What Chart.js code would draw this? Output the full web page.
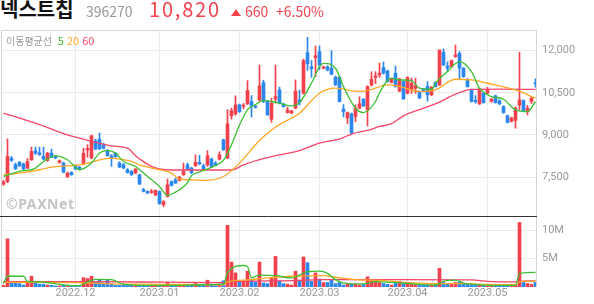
<!DOCTYPE html>
<html lang="ko">
<head>
<meta charset="utf-8">
<script src="https://cdn.jsdelivr.net/npm/chart.js@4.4.0/dist/chart.umd.min.js"></script>
<style>
  body { margin: 0; width: 594px; height: 304px; overflow: hidden; background: #fff; position: relative; font-family: "Noto Sans CJK KR", sans-serif; }
  canvas { position: absolute; left: 0; }
  #priceChart { top: 30px; }
  #volumeChart { top: 217px; }
  .t { position: absolute; white-space: nowrap; line-height: 1; }
  .name { left: 0; top: -1px; font-size: 20px; font-weight: bold; color: #111; }
  .code { left: 86px; top: 3.5px; font-size: 14px; color: #999; }
  .price { left: 149px; top: -1.5px; font-size: 20px; color: #f2434f; letter-spacing: 1.8px; }
  .tri { position: absolute; left: 231px; top: 9px; width: 0; height: 0; border-left: 5px solid transparent; border-right: 5px solid transparent; border-bottom: 7px solid #f2434f; }
  .chg { left: 245px; top: 3.5px; font-size: 14px; color: #f2434f; }
  .pct { left: 276px; top: 3.5px; font-size: 14px; color: #f2434f; }
  .legend { left: 6px; top: 35px; font-size: 10px; color: #999; }
  .legend b { font-weight: normal; font-size: 11px; margin-left: 3px; }
  .mark { left: 6px; top: 197px; font-family: "Noto Sans", sans-serif; font-size: 14px; font-weight: bold; color: #c4c4c4; letter-spacing: 0.6px; }
</style>
</head>
<body>
<canvas id="priceChart" width="594" height="187"></canvas>
<canvas id="volumeChart" width="594" height="87"></canvas>

<div class="t name">넥스트칩</div>
<div class="t code">396270</div>
<div class="t price">10,820</div>
<div class="tri"></div>
<div class="t chg">660</div>
<div class="t pct">+6.50%</div>
<div class="t legend">이동평균선 <b style="color:#3cbf32">5</b><b style="color:#ffa726">20</b><b style="color:#f7456a">60</b></div>
<div class="t mark">©PAXNet</div>

<script>
// --- DATA (2022.11.07 ~ 2023.05.19, 일봉) ---
const monthIdx = [18, 39, 59, 79, 101, 121];
const monthLabels = ['2022.12', '2023.01', '2023.02', '2023.03', '2023.04', '2023.05'];
const priceTicks = [7500, 9000, 10500, 12000];
const volumeTicks = [5, 10];

const open = [7250, 7340, 8170, 7940, 8020, 7970, 7820, 8114, 8435, 8360,
  8233, 8090, 8350, 8230, 8020, 7996, 7520, 7660, 7900, 7850,
  7970, 8460, 8175, 8790, 8850, 8650, 8445, 8250, 8350, 8000,
  7940, 7760, 7700, 7640, 7580, 7048, 6990, 6950, 6860, 6990,
  6515, 6810, 7343, 7400, 7380, 7580, 7935, 7820, 7900, 8020,
  7900, 7935, 8140, 8000, 8140, 8825, 8175, 9680, 9750, 10070,
  10020, 10105, 10190, 10020, 10247, 10860, 10190, 9560, 10280, 10603,
  10100, 9795, 9775, 9950, 10247, 10485, 11930, 11430, 11750, 11965,
  11380, 11430, 11375, 11054, 11054, 9920, 9600, 9750, 9655, 9950,
  10270, 9892, 10780, 11040, 11136, 11395, 11280, 10875, 11197, 10565,
  10900, 10485, 10603, 10660, 10545, 10620, 10720, 10425, 10875, 10780,
  11943, 11456, 11430, 11790, 11907, 11375, 10983, 10603, 10230, 10105,
  10485, 10485, 10190, 10390, 10220, 10010, 9680, 9480, 9515, 10060,
  10220, 9830, 10190, 10860];
const high = [7380, 8860, 8230, 8000, 8060, 8000, 8160, 8565, 8565, 8565,
  8565, 8380, 8500, 8260, 8110, 8030, 7680, 7690, 7930, 7880,
  8530, 8650, 8995, 8850, 9070, 8700, 8480, 8300, 8380, 8050,
  7980, 7800, 7730, 7800, 7600, 7100, 7010, 7060, 7040, 7010,
  6660, 7430, 7360, 7460, 7520, 8000, 8000, 7850, 8290, 8270,
  7960, 8440, 8180, 8050, 8400, 8850, 9900, 9950, 10390, 10100,
  10120, 10935, 10400, 10050, 11490, 10950, 10220, 10300, 11490, 10700,
  10130, 9990, 9880, 10958, 10600, 11700, 12476, 11650, 12167, 12167,
  11450, 11460, 12000, 11100, 11080, 10080, 9820, 9780, 10070, 10360,
  10300, 10750, 11250, 11250, 11560, 11600, 11310, 11020, 11450, 11020,
  10930, 11070, 11020, 11020, 10570, 10650, 10900, 10720, 10890, 12025,
  12060, 11600, 11670, 12200, 11970, 11400, 11010, 10630, 10400, 10660,
  10510, 10700, 10300, 10420, 10250, 10040, 9710, 9630, 10000, 11940,
  10250, 10050, 10360, 11000];
const low = [7200, 7300, 8050, 7770, 7880, 7760, 7800, 8090, 8300, 8270,
  8120, 8060, 8190, 8150, 7990, 7650, 7480, 7560, 7760, 7760,
  7950, 8200, 8150, 8480, 8480, 8500, 8240, 7880, 8200, 7830,
  7800, 7640, 7560, 7620, 7230, 6970, 6910, 6920, 6840, 6530,
  6440, 6790, 7180, 7270, 7360, 7560, 7740, 7620, 7880, 7940,
  7740, 7880, 7850, 7900, 8110, 8450, 8150, 9560, 9700, 9800,
  9930, 10080, 9640, 9950, 10200, 10150, 9690, 9450, 10130, 10100,
  9990, 9780, 9760, 9930, 10060, 10450, 11300, 11050, 11075, 11320,
  11350, 11280, 11140, 10760, 10170, 9640, 9400, 9040, 9470, 9930,
  10010, 9320, 10740, 10830, 11050, 11170, 10880, 10850, 10700, 10540,
  10260, 10460, 10480, 10480, 10290, 10530, 10200, 10400, 10700, 10760,
  11470, 11250, 11400, 11760, 11000, 11050, 10700, 10170, 10130, 10080,
  10130, 10460, 10170, 10130, 10080, 9770, 9420, 9460, 9240, 9900,
  9840, 9710, 10120, 10700];
const close = [7330, 8240, 8100, 7790, 7900, 7790, 8055, 8410, 8350, 8300,
  8140, 8350, 8210, 8180, 8080, 7677, 7641, 7580, 7785, 7785,
  8350, 8520, 8967, 8495, 8500, 8530, 8260, 8170, 8230, 7855,
  7820, 7660, 7580, 7785, 7250, 6990, 6930, 7000, 7025, 6550,
  6630, 7226, 7200, 7285, 7500, 7700, 7785, 7660, 8020, 7970,
  7785, 8260, 7875, 7920, 8290, 8470, 9394, 9867, 10070, 9830,
  10060, 10580, 10035, 9980, 10745, 10190, 9715, 10130, 10365, 10130,
  10010, 9890, 9855, 10565, 10165, 11645, 11530, 11350, 11820, 11490,
  11420, 11314, 11160, 10780, 10190, 9830, 9795, 9063, 9950, 10105,
  10035, 10720, 10983, 11100, 11197, 11197, 10900, 10994, 10720, 10994,
  10283, 11040, 10840, 10755, 10310, 10560, 10425, 10700, 10720, 12025,
  11490, 11375, 11645, 11850, 11375, 11075, 10720, 10190, 10180, 10640,
  10150, 10603, 10270, 10150, 10105, 9795, 9445, 9600, 9950, 10247,
  9867, 9950, 10310, 10820];
// 거래량 (백만 주)
const volume = [0.3, 8.5, 0.9, 0.7, 0.6, 0.35, 0.9, 1.9, 0.8, 0.5,
  0.5, 0.35, 0.3, 0.2, 0.2, 0.35, 0.2, 0.2, 0.1, 0.1,
  1.65, 1.5, 1.9, 0.85, 1.3, 0.7, 1.35, 0.5, 0.3, 0.35,
  0.3, 0.35, 0.3, 0.2, 0.3, 0.2, 0.15, 0.15, 0.15, 0.2,
  0.15, 0.8, 0.3, 0.3, 0.3, 0.35, 0.3, 0.3, 0.6, 0.3,
  0.3, 1.2, 0.3, 0.25, 0.3, 1.1, 10.9, 4.4, 2.5, 1.0,
  1.1, 2.8, 1.4, 0.9, 4.4, 0.7, 0.6, 1.7, 5.4, 1.05,
  0.6, 0.5, 0.35, 2.8, 1.1, 5.3, 4.3, 1.0, 2.5, 1.4,
  0.8, 0.8, 1.2, 0.6, 0.8, 0.35, 0.5, 0.5, 0.5, 0.35,
  0.45, 1.8, 1.1, 0.95, 0.8, 0.6, 0.45, 0.35, 0.8, 0.95,
  0.6, 0.8, 0.45, 0.4, 0.35, 0.3, 0.35, 0.3, 0.35, 3.3,
  0.8, 0.6, 0.6, 0.8, 0.9, 0.6, 0.5, 0.45, 0.3, 0.4,
  0.3, 0.3, 0.2, 0.2, 0.2, 0.25, 0.3, 0.2, 0.4, 11.4,
  0.8, 0.6, 0.45, 0.8];

// 이동평균선: 그림에서 읽은 지점 [index, 값]
const ma5 = [[0, 7520], [4, 7700], [8, 7820], [10, 8055], [13, 8257], [16, 8114], [19, 7760], [22, 8000],
  [24, 8353], [26, 8450], [28, 8353], [30, 8055], [33, 7876], [34, 7760], [36, 7520], [39, 7165], [41, 6850],
  [43, 6960], [44, 7048], [46, 7300], [47, 7550], [49, 7680], [53, 7910], [55, 8100], [57, 8650], [59, 9350],
  [61, 9900], [63, 10080], [65, 10230], [67, 10190], [69, 10130], [72, 10035], [74, 10150], [77, 10840],
  [79, 11430], [80, 11550], [83, 11375], [85, 10720], [88, 9950], [90, 9795], [93, 10190], [94, 10500],
  [97, 11020], [99, 10958], [102, 10935], [104, 10663], [107, 10627], [108, 10840], [111, 11255], [114, 11610],
  [117, 11255], [119, 10663], [122, 10365], [125, 10270], [128, 9892], [131, 9830], [133, 10190]];
const ma20 = [[0, 7580], [4, 7640], [9, 7760], [12, 7855], [16, 7900], [19, 7935], [22, 8020], [24, 8114],
  [27, 8175], [29, 8140], [32, 8055], [34, 7935], [37, 7820], [39, 7760], [42, 7640], [44, 7430], [47, 7400],
  [50, 7380], [55, 7520], [59, 7996], [63, 8650], [64, 8800], [68, 9280], [70, 9450], [74, 9775], [79, 10485],
  [83, 10663], [89, 10550], [92, 10620], [96, 10780], [98, 10760], [102, 10600], [104, 10543], [108, 10603],
  [113, 10983], [117, 10958], [121, 10840], [128, 10603], [133, 10308]];
const ma60 = [[0, 9780], [8, 9420], [16, 9000], [22, 8780], [27, 8610], [31, 8530], [33, 8260], [35, 8050],
  [37, 7880], [39, 7790], [42, 7750], [57, 7750], [60, 7930], [63, 8080], [68, 8260], [74, 8440], [79, 8710],
  [84, 8850], [87, 9030], [92, 9200], [94, 9300], [97, 9400], [100, 9680], [104, 9900], [109, 10170],
  [113, 10450], [117, 10620], [124, 10630], [133, 10620]];
const volMa5 = [[0, 0.6], [1, 1.9], [5, 1.9], [6, 1.0], [8, 0.9], [12, 0.7], [16, 0.3], [19, 0.25], [21, 0.9],
  [23, 1.35], [27, 1.3], [30, 0.5], [34, 0.3], [45, 0.3], [50, 0.4], [55, 0.5], [56, 2.6], [60, 3.8], [61, 3.6],
  [62, 1.65], [64, 2.1], [68, 2.0], [72, 1.6], [76, 2.7], [79, 2.8], [81, 2.4], [83, 1.3], [85, 0.7], [90, 0.55],
  [93, 0.95], [97, 0.8], [100, 0.7], [104, 0.45], [108, 0.35], [110, 1.0], [113, 1.2], [115, 0.7], [118, 0.45],
  [121, 0.3], [128, 0.3], [129, 2.4], [133, 2.6]];
const volMa20 = [[0, 0.8], [10, 0.8], [20, 0.75], [25, 0.6], [35, 0.5], [45, 0.45], [55, 0.4], [56, 0.9],
  [60, 1.2], [66, 1.6], [72, 1.9], [80, 2.0], [84, 1.6], [88, 1.3], [96, 1.1], [100, 0.8], [108, 0.6],
  [116, 0.6], [120, 0.45], [128, 0.4], [129, 0.95], [133, 1.05]];
const volMa60 = [[0, 0.95], [20, 0.95], [40, 0.85], [55, 0.75], [56, 0.95], [70, 1.1], [80, 1.3], [100, 1.3],
  [117, 1.25], [121, 1.0], [128, 0.9], [129, 1.05], [133, 1.1]];

// --- STYLE ---
const UP = '#f2404c';
const DOWN = '#2b87ee';
const C5 = '#3cbf32', C20 = '#ffa726', C60 = '#f7456a';
const GRID = '#ebebeb';
const TICK = '#999';
const TICK_FONT = { family: 'Roboto', size: 11 };
const X_MIN = -0.625, X_MAX = 133.375;

const candleColor = close.map((c, i) => c >= open[i] ? UP : DOWN);
const pts = arr => arr.map(([x, y]) => ({ x, y }));

function maLine(arr, color) {
    return { type: 'line', data: pts(arr), borderColor: color, borderWidth: 1.3, pointRadius: 0, cubicInterpolationMode: 'monotone', fill: false };
}

// 테두리 + 구분선
const framePlugin = {
    id: 'frame',
    afterDraw(chart, args, opts) {
        const { ctx, chartArea: a } = chart;
        ctx.save();
        ctx.lineWidth = 1;
        ctx.strokeStyle = '#d4d4d4';
        ctx.beginPath();
        ctx.moveTo(Math.round(a.left) + 0.5, a.top);
        ctx.lineTo(Math.round(a.left) + 0.5, a.bottom);
        ctx.moveTo(Math.round(a.right) - 0.5, a.top);
        ctx.lineTo(Math.round(a.right) - 0.5, a.bottom);
        if (opts.top) {
            ctx.moveTo(a.left, a.top + 0.5);
            ctx.lineTo(a.right, a.top + 0.5);
        }
        ctx.stroke();
        if (opts.divider) {
            ctx.strokeStyle = '#333';
            ctx.beginPath();
            ctx.moveTo(0, a.bottom - 0.5);
            ctx.lineTo(a.right, a.bottom - 0.5);
            ctx.stroke();
        }
        ctx.restore();
    }
};

function monthTicks(scale) {
    scale.ticks = monthIdx.map(v => ({ value: v }));
}
function noPad(scale) {
    scale.paddingTop = 0; scale.paddingBottom = 0;
    scale.paddingLeft = 0; scale.paddingRight = 0;
}

// --- PRICE CHART ---
new Chart(document.getElementById('priceChart'), {
    type: 'bar',
    data: {
        datasets: [
            maLine(ma5, C5),
            maLine(ma20, C20),
            maLine(ma60, C60),
            {
                data: open.map((o, i) => ({ x: i, y: [o, close[i]] })),
                backgroundColor: candleColor, barThickness: 3, minBarLength: 1, grouped: false
            },
            {
                data: open.map((o, i) => ({ x: i, y: [low[i], high[i]] })),
                backgroundColor: candleColor, barThickness: 1, grouped: false
            }
        ]
    },
    options: {
        responsive: false,
        animation: false,
        layout: { padding: { left: 1, top: 0, right: 0, bottom: 0 } },
        plugins: { legend: { display: false }, tooltip: { enabled: false }, frame: { top: true, divider: true } },
        scales: {
            x: {
                type: 'linear', min: X_MIN, max: X_MAX, offset: false,
                afterBuildTicks: monthTicks,
                afterFit: s => { s.height = 0; noPad(s); },
                ticks: { display: false },
                grid: { color: GRID, drawTicks: false, offset: false },
                border: { display: false }
            },
            y: {
                position: 'right', min: 6077, max: 12736,
                afterBuildTicks: s => { s.ticks = priceTicks.map(v => ({ value: v })); },
                afterFit: s => { s.width = 57; noPad(s); },
                ticks: { padding: 5, color: TICK, font: TICK_FONT, callback: v => v.toLocaleString('en-US') },
                grid: { color: GRID, drawTicks: false },
                border: { display: false }
            }
        }
    },
    plugins: [framePlugin]
});

// --- VOLUME CHART ---
new Chart(document.getElementById('volumeChart'), {
    type: 'bar',
    data: {
        datasets: [
            maLine(volMa5, C5),
            maLine(volMa20, C20),
            maLine(volMa60, C60),
            {
                data: volume.map((v, i) => ({ x: i, y: v })),
                backgroundColor: candleColor, barThickness: 3, grouped: false
            }
        ]
    },
    options: {
        responsive: false,
        animation: false,
        layout: { padding: { left: 1, top: 0, right: 0, bottom: 0 } },
        plugins: { legend: { display: false }, tooltip: { enabled: false }, frame: {} },
        scales: {
            x: {
                type: 'linear', min: X_MIN, max: X_MAX, offset: false,
                afterBuildTicks: monthTicks,
                afterFit: s => { s.height = 17; noPad(s); },
                ticks: { padding: 0, maxRotation: 0, autoSkip: false, color: TICK, font: TICK_FONT, callback: (v, i) => monthLabels[i] },
                grid: { color: GRID, drawTicks: false, offset: false },
                border: { display: false }
            },
            y: {
                position: 'right', min: 0, max: 12.37,
                afterBuildTicks: s => { s.ticks = volumeTicks.map(v => ({ value: v })); },
                afterFit: s => { s.width = 57; noPad(s); },
                ticks: { padding: 5, color: TICK, font: TICK_FONT, callback: v => v + 'M' },
                grid: { color: GRID, drawTicks: false },
                border: { display: false }
            }
        }
    },
    plugins: [framePlugin]
});
</script>
</body>
</html>
